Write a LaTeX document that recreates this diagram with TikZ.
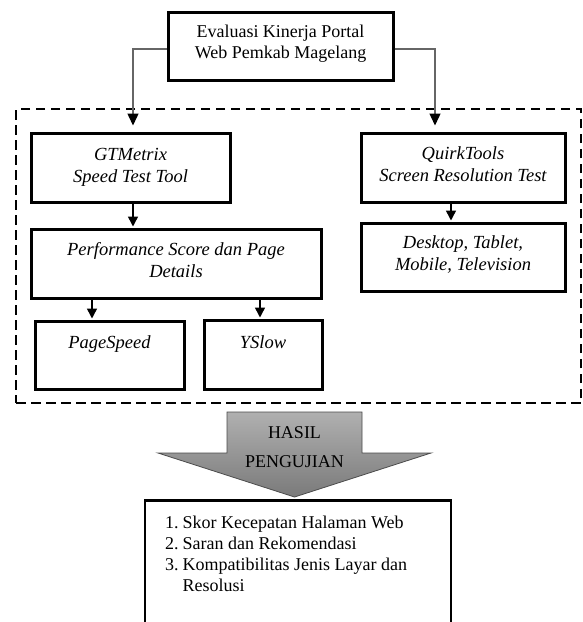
\documentclass[tikz,border=0pt]{standalone}
\usepackage{fontspec}
\setmainfont{Liberation Serif}
\usetikzlibrary{arrows.meta}
\definecolor{arrtop}{RGB}{176,176,176}
\definecolor{arrbot}{RGB}{122,122,122}
\newcommand\nf{\fontsize{18}{21}\selectfont}
\newcommand\itf{\fontsize{18.5}{22}\selectfont\itshape}
\newcommand\twol[2]{\begin{tabular}[t]{@{}c@{}}#1\\#2\end{tabular}}
\begin{document}
\begin{tikzpicture}[x=1pt, y=-1pt,
  box/.style={draw=black, line width=3pt, inner sep=0pt},
  dashbox/.style={draw=black, line width=2.6pt, dash pattern=on 9.5pt off 5.5pt, inner sep=0pt},
  lbl/.style={anchor=base, inner sep=0pt},
  conn/.style={draw=black!60, line width=1.4pt, -{Triangle[width=11pt,length=12pt,black]}, shorten >=6pt},
  arr/.style={draw=black, line width=1.5pt, -{Triangle[width=10pt,length=10pt]}, shorten >=1pt}]
\useasboundingbox (0,0) rectangle (582,622);
\clip (0,0) rectangle (582,622);
\fill[white] (0,0) rectangle (582,622);

% group
\node[dashbox, minimum width=565pt, minimum height=294pt] (grp) at (298.5,256) {};

% boxes
\node[box, minimum width=225pt, minimum height=68pt] (top) at (280.5,46) {};
\node[lbl, font=\nf] (toptxt) at (280.5,37.5) {\twol{Evaluasi Kinerja Portal}{Web Pemkab Magelang}};

\node[box, minimum width=199pt, minimum height=69pt] (gt) at (130.5,167.5) {};
\node[lbl, font=\itf] (gttxt) at (130.5,160) {\twol{GTMetrix}{Speed Test Tool}};

\node[box, minimum width=204pt, minimum height=69pt] (qt) at (463,167.5) {};
\node[lbl, font=\itf] (qttxt) at (463,159) {\twol{QuirkTools}{Screen Resolution Test}};

\node[box, minimum width=290pt, minimum height=69pt] (perf) at (176,263.5) {};
\node[lbl, font=\itf] (perftxt) at (176,255) {\twol{Performance Score dan Page}{Details}};

\node[box, minimum width=204pt, minimum height=68pt] (desk) at (463,257) {};
\node[lbl, font=\itf] (desktxt) at (463,248.5) {\twol{Desktop, Tablet,}{Mobile, Television}};

\node[box, minimum width=149pt, minimum height=68pt] (ps) at (109.5,355) {};
\node[lbl, font=\itf] (pstxt) at (109.5,348) {PageSpeed};

\node[box, minimum width=118pt, minimum height=69pt] (ys) at (263,354.5) {};
\node[lbl, font=\itf] (ystxt) at (263,348) {YSlow};

% connectors
\draw[conn] ([yshift=-3pt]top.west) -| ([xshift=2.5pt]gt.north);
\draw[conn] ([yshift=-3pt]top.east) -| ([xshift=-28pt]qt.north);
\draw[arr] ([xshift=2.5pt]gt.south) -- ([xshift=2.5pt]gt.south |- perf.north);
\draw[arr] ([xshift=-12pt]qt.south) -- ([xshift=-12pt]qt.south |- desk.north);
\draw[arr] ([xshift=-17.5pt]ps.north |- perf.south) -- ([xshift=-17.5pt]ps.north);
\draw[arr] ([xshift=-3pt]ys.north |- perf.south) -- ([xshift=-3pt]ys.north);

% big arrow
\draw[draw=black!70, line width=0.8pt, top color=arrtop, bottom color=arrbot]
  (227,412) -- (362,412) -- (362,453) -- (431,453) -- (294.5,497) -- (158,453) -- (227,453) -- cycle;
\node[lbl, font=\fontsize{18}{29}\selectfont] (hasil) at (294.5,438) {\twol{HASIL}{PENGUJIAN}};

% result box
\node[box, line width=2.6pt, minimum width=306pt, minimum height=160pt, anchor=north] (res) at (298,499) {};
\node[anchor=base west, inner sep=0pt, font=\nf] (list) at (165,528) {\begin{tabular}[t]{@{}l@{}}
\makebox[17.5pt][l]{1.}Skor Kecepatan Halaman Web\\
\makebox[17.5pt][l]{2.}Saran dan Rekomendasi\\
\makebox[17.5pt][l]{3.}Kompatibilitas Jenis Layar dan\\
\hspace*{17.5pt}Resolusi
\end{tabular}};
\end{tikzpicture}
\end{document}
